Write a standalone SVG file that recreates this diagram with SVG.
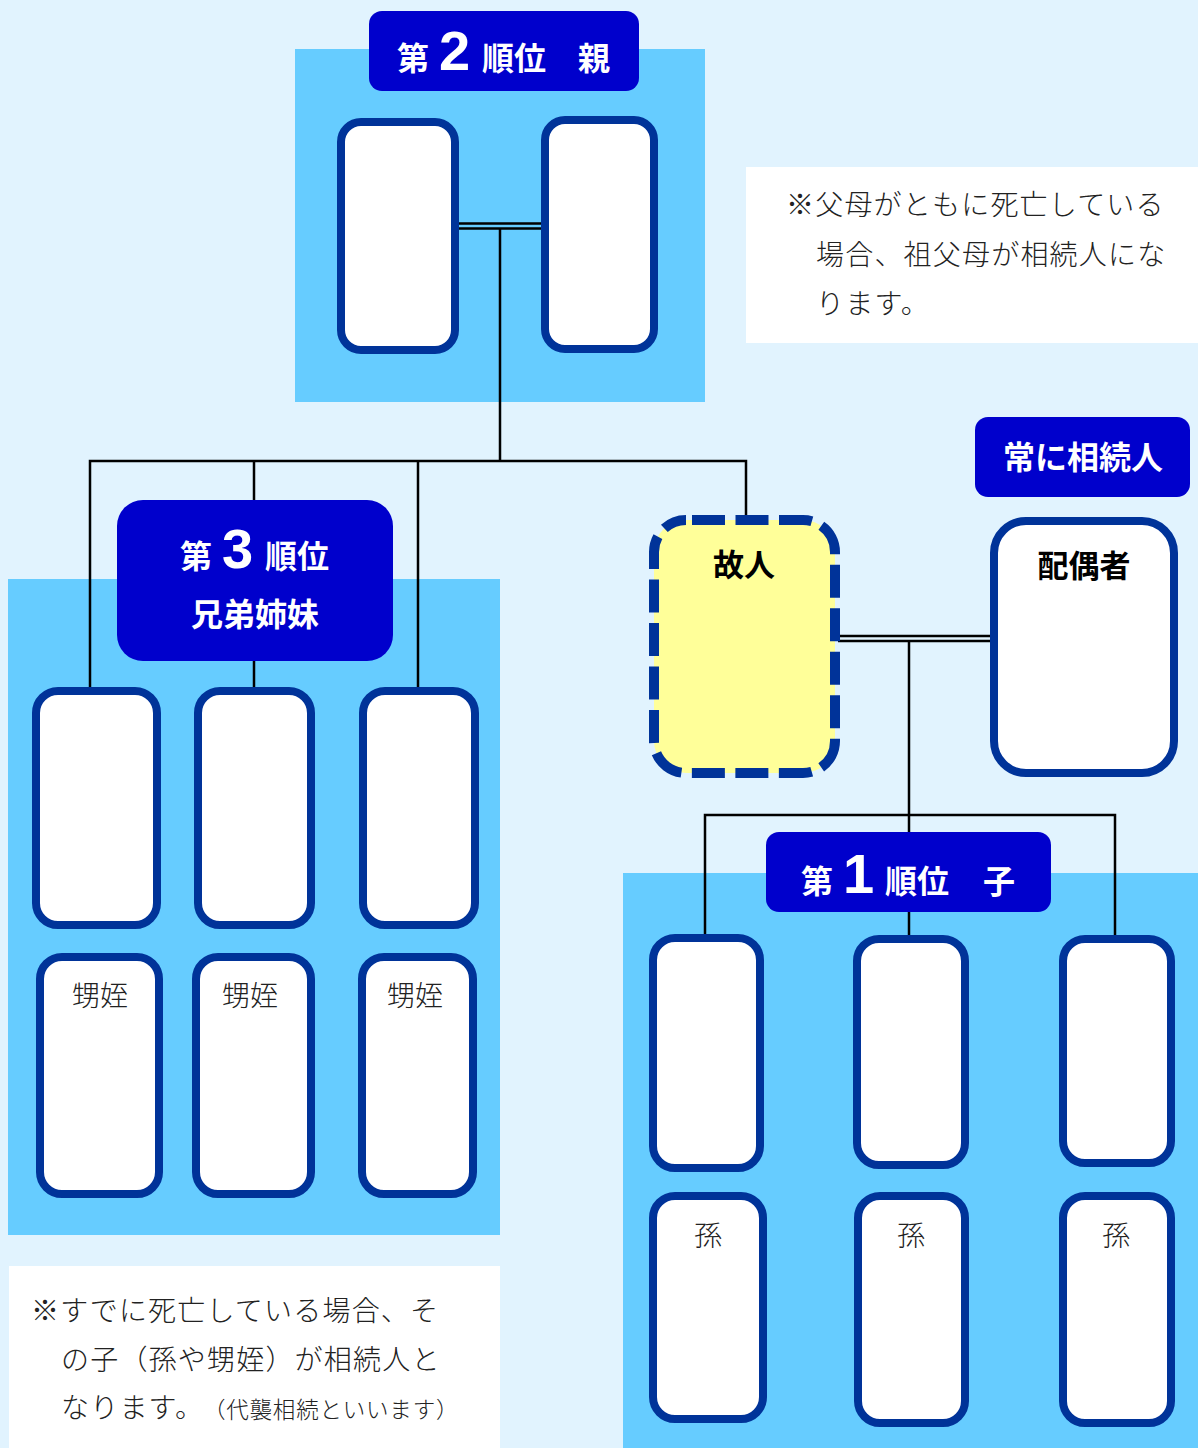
<svg xmlns="http://www.w3.org/2000/svg" width="1198" height="1448" viewBox="0 0 1198 1448">
<style>
.panel{fill:#66CCFF}
.note{fill:#FFFFFF}
.box{fill:#FFFFFF;stroke:#003399;stroke-width:8}
.hdr{fill:#0000CC}
.ln{fill:none;stroke:#000000;stroke-width:2.5}
.ht{font-family:"Noto Sans CJK JP","Noto Sans",sans-serif;font-weight:700;fill:#FFFFFF;font-size:32px}
.num{font-family:"Liberation Sans",Arial,sans-serif;font-weight:700;fill:#FFFFFF;font-size:56px}
.bt{font-family:"Noto Sans CJK JP","Noto Sans",sans-serif;font-weight:700;fill:#000000;font-size:31px;text-anchor:middle}
.lt{font-family:"Noto Sans CJK JP","Noto Sans",sans-serif;font-weight:300;fill:#222222;font-size:28px;text-anchor:middle}
.nt{font-family:"Noto Sans CJK JP","Noto Sans",sans-serif;font-weight:300;fill:#222222;font-size:28px;letter-spacing:1.2px}
</style>
<rect x="0" y="0" width="1198" height="1448" fill="#E1F3FE"/>
<g id="panels">
<rect class="panel" x="295" y="49" width="410" height="353"/>
<rect class="panel" x="8" y="579" width="492" height="656"/>
<rect class="panel" x="623" y="873" width="575" height="575"/>
</g>
<g id="note-top">
<rect class="note" x="746" y="167" width="452" height="176"/>
<text class="nt" x="786" y="215">※父母がともに死亡している</text>
<text class="nt" x="816" y="265">場合、祖父母が相続人にな</text>
<text class="nt" x="816" y="314">ります。</text>
</g>
<g id="note-bottom">
<rect class="note" x="9" y="1266" width="491" height="182"/>
<text class="nt" x="31" y="1321">※すでに死亡している場合、そ</text>
<text class="nt" x="61" y="1370">の子（孫や甥姪）が相続人と</text>
<text class="nt" x="61" y="1418">なります。<tspan dx="10" font-size="22.5px" letter-spacing="0.8px">（代襲相続といいます）</tspan></text>
</g>
<g id="connectors">
<path class="ln" d="M459 223.5H541M459 228.5H541"/>
<path class="ln" d="M500 228.5V461"/>
<path class="ln" d="M90 687V461H746V516"/>
<path class="ln" d="M254 461V690"/>
<path class="ln" d="M418 461V690"/>
<path class="ln" d="M838 636H990M838 641H990"/>
<path class="ln" d="M909 641V815"/>
<path class="ln" d="M705 934V815H1115V936"/>
<path class="ln" d="M909 815V936"/>
</g>
<g id="parent1"><rect class="box" x="341" y="122" width="114" height="228" rx="20"/></g>
<g id="parent2"><rect class="box" x="545" y="120" width="109" height="229" rx="20"/></g>
<g id="sibling1"><rect class="box" x="36" y="691" width="121" height="234" rx="22"/></g>
<g id="sibling2"><rect class="box" x="198" y="691" width="113" height="234" rx="22"/></g>
<g id="sibling3"><rect class="box" x="363" y="691" width="112" height="234" rx="22"/></g>
<g id="nephew1"><rect class="box" x="40" y="957" width="119" height="237" rx="22"/><text class="lt" x="100" y="1006">甥姪</text></g>
<g id="nephew2"><rect class="box" x="196" y="957" width="115" height="237" rx="22"/><text class="lt" x="250" y="1006">甥姪</text></g>
<g id="nephew3"><rect class="box" x="362" y="957" width="111" height="237" rx="22"/><text class="lt" x="415" y="1006">甥姪</text></g>
<g id="child1"><rect class="box" x="653" y="938" width="107" height="230" rx="22"/></g>
<g id="child2"><rect class="box" x="857" y="939" width="108" height="226" rx="22"/></g>
<g id="child3"><rect class="box" x="1063" y="939" width="108" height="224" rx="22"/></g>
<g id="grandchild1"><rect class="box" x="653" y="1196" width="110" height="223" rx="22"/><text class="lt" x="708" y="1246">孫</text></g>
<g id="grandchild2"><rect class="box" x="858" y="1196" width="107" height="227" rx="22"/><text class="lt" x="911" y="1246">孫</text></g>
<g id="grandchild3"><rect class="box" x="1063" y="1196" width="108" height="227" rx="22"/><text class="lt" x="1116" y="1246">孫</text></g>
<g id="deceased"><rect x="654" y="520" width="181" height="253" rx="32" fill="#FFFF99" stroke="#003399" stroke-width="10" stroke-dasharray="33 10.5" stroke-dashoffset="-6"/><text class="bt" x="744" y="576">故人</text></g>
<g id="spouse"><rect class="box" x="994" y="521" width="180" height="252" rx="32"/><text class="bt" x="1084" y="577">配偶者</text></g>
<g id="header2"><rect class="hdr" x="369" y="11" width="270" height="80" rx="13"/><text class="ht" x="397" y="70">第</text><text class="num" x="439" y="70">2</text><text class="ht" x="482" y="70">順位</text><text class="ht" x="578" y="70">親</text></g>
<g id="header3"><rect class="hdr" x="117" y="500" width="276" height="161" rx="26"/><text class="ht" x="180" y="568">第</text><text class="num" x="222" y="568">3</text><text class="ht" x="265" y="568">順位</text><text class="ht" x="255" y="626" text-anchor="middle">兄弟姉妹</text></g>
<g id="header-spouse"><rect class="hdr" x="975" y="417" width="215" height="80" rx="13"/><text class="ht" x="1083" y="469" text-anchor="middle">常に相続人</text></g>
<g id="header1"><rect class="hdr" x="766" y="832" width="285" height="80" rx="13"/><text class="ht" x="801" y="893">第</text><text class="num" x="843" y="893">1</text><text class="ht" x="885" y="893">順位</text><text class="ht" x="983" y="893">子</text></g>
</svg>
